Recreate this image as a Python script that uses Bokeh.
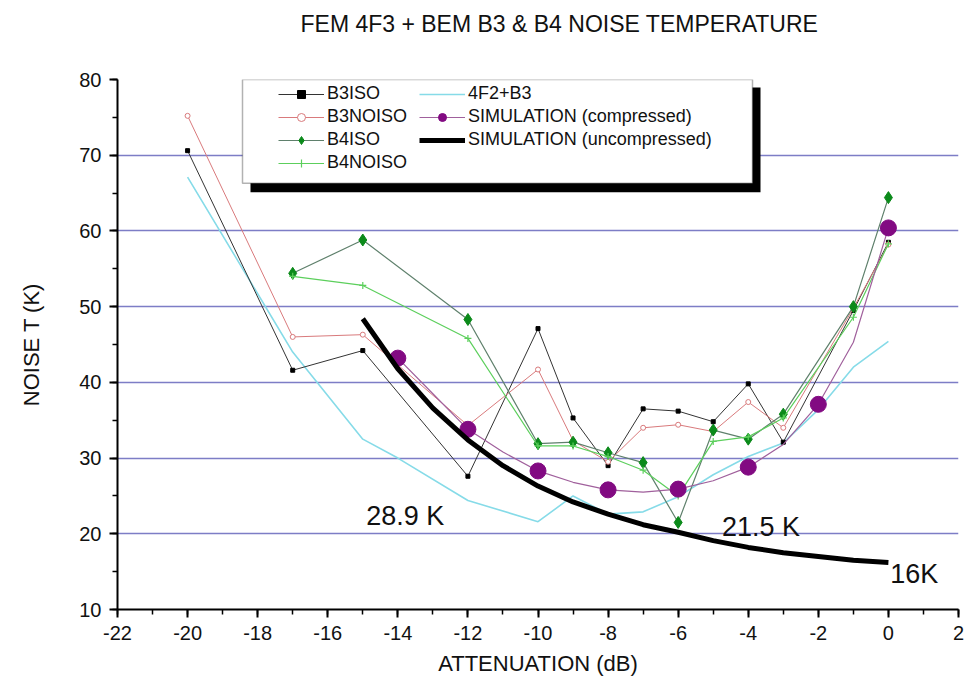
from bokeh.plotting import figure
from bokeh.models import (Legend, LegendItem, BoxAnnotation, Label, Title,
                          SingleIntervalTicker, FixedTicker, Range1d)
from bokeh.embed import file_html
from bokeh.resources import INLINE

# ---------------- data ----------------
b3iso_x = [-20, -17, -15, -12, -10, -9, -8, -7, -6, -5, -4, -3, -1, 0]
b3iso_y = [70.6, 41.6, 44.2, 27.6, 47.1, 35.3, 29.0, 36.5, 36.2, 34.8, 39.8, 32.1, 49.5, 58.5]

b3noiso_x = [-20, -17, -15, -12, -10, -9, -8, -7, -6, -5, -4, -3, -1, 0]
b3noiso_y = [75.2, 46.0, 46.3, 34.3, 41.7, 32.3, 29.5, 34.0, 34.4, 33.5, 37.4, 34.0, 49.8, 58.2]

b4iso_x = [-17, -15, -12, -10, -9, -8, -7, -6, -5, -4, -3, -1, 0]
b4iso_y = [54.4, 58.8, 48.3, 31.9, 32.1, 30.7, 29.4, 21.5, 33.7, 32.5, 35.8, 50.0, 64.4]

b4noiso_x = [-17, -15, -12, -10, -9, -8, -7, -6, -5, -4, -3, -1, 0]
b4noiso_y = [54.0, 52.8, 45.8, 31.6, 31.6, 30.2, 28.4, 25.0, 32.2, 32.8, 35.3, 48.6, 58.3]

f4b3_x = [-20, -17, -15, -14, -12, -10, -9, -8, -7, -6, -5, -4, -3, -2, -1, 0]
f4b3_y = [67.1, 44.0, 32.5, 30.0, 24.4, 21.6, 25.0, 22.6, 22.9, 24.9, 27.8, 30.2, 32.0, 36.4, 42.0, 45.4]

simc_x = [-14, -13, -12, -11, -10, -9, -8, -7, -6, -5, -4, -3, -2, -1, 0]
simc_y = [43.2, 38.5, 33.8, 30.8, 28.3, 26.8, 25.8, 25.5, 25.9, 27.0, 28.8, 31.8, 37.1, 45.3, 60.4]
simc_marker_x = [-14, -12, -10, -8, -6, -4, -2, 0]

simu_x = [-15, -14, -13, -12, -11, -10, -9, -8, -7, -6, -5, -4, -3, -2, -1, 0]
simu_y = [48.4, 41.8, 36.6, 32.4, 29.0, 26.3, 24.2, 22.6, 21.2, 20.2, 19.1, 18.2, 17.5, 17.0, 16.5, 16.2]

notes = ["28.9 K", "21.5 K", "16K"]
notes_x = [-14.9, -4.75, 0.05]
notes_y = [22.4, 20.9, 14.75]

title_text = "FEM 4F3 + BEM B3 & B4 NOISE TEMPERATURE"

x_ticks = list(range(-22, 3, 2))
x_tick_labels = ["-22", "-20", "-18", "-16", "-14", "-12", "-10", "-8", "-6", "-4", "-2", "0", "2"]

X_RANGE = (-22, 2)
Y_RANGE = (10, 80)

# ---------------- figure ----------------
W, H = 964, 678
BL, BR, BT, BB = 117, 6, 79, 68
FW = W - BL - BR
FH = H - BT - BB
FONT = "Liberation Sans"

p = figure(width=W, height=H, output_backend="svg", toolbar_location=None,
           x_range=Range1d(*X_RANGE), y_range=Range1d(*Y_RANGE),
           min_border_left=BL, min_border_right=BR, min_border_top=BT,
           min_border_bottom=BB)
p.outline_line_color = None
p.background_fill_color = "white"
p.border_fill_color = "white"

# spacer panel next to the frame, then the real title above it
p.add_layout(Title(text=" ", text_font_size="10px", standoff=26), "above")
p.add_layout(Title(text=title_text, text_font=FONT, text_font_size="23px",
                   text_font_style="normal", text_color="#111111",
                   align="left", offset=183, standoff=8), "above")

p.xaxis.ticker = SingleIntervalTicker(interval=2, num_minor_ticks=2)
p.yaxis.ticker = SingleIntervalTicker(interval=10, num_minor_ticks=2)
p.xaxis.major_label_overrides = {t: s for t, s in zip(x_ticks, x_tick_labels)}
p.xaxis.axis_label = "ATTENUATION (dB)"
p.yaxis.axis_label = "NOISE T (K)"
for ax in (p.xaxis[0], p.yaxis[0]):
    ax.axis_label_text_font = FONT
    ax.axis_label_text_font_size = "22px"
    ax.axis_label_text_font_style = "normal"
    ax.axis_label_text_color = "#111111"
    ax.major_label_text_font = FONT
    ax.major_label_text_font_size = "20px"
    ax.major_label_text_color = "#111111"
    ax.axis_line_width = 2
    ax.axis_line_color = "black"
    ax.major_tick_line_width = 2
    ax.major_tick_line_color = "black"
    ax.minor_tick_line_width = 1.5
    ax.minor_tick_line_color = "black"
    ax.major_tick_in = 0
    ax.major_tick_out = 8
    ax.minor_tick_in = 0
    ax.minor_tick_out = 5
p.xaxis.major_label_standoff = 8
p.xaxis.axis_label_standoff = 8
p.yaxis.major_label_standoff = 8
p.yaxis.axis_label_standoff = 32

p.xgrid.visible = False
p.ygrid.ticker = FixedTicker(ticks=[20, 30, 40, 50, 60, 70])
p.ygrid.grid_line_color = "#7d7dc6"
p.ygrid.grid_line_width = 1.5

# ---------------- helpers: frame pixels -> data ----------------
def dx(px):  # screen px from frame left -> data x
    return X_RANGE[0] + px * (X_RANGE[1] - X_RANGE[0]) / FW

def dy(px):  # screen px from frame top -> data y
    return Y_RANGE[1] - px * (Y_RANGE[1] - Y_RANGE[0]) / FH

# ---------------- legend box + shadow (decoration) ----------------
box_l, box_t, box_w, box_h = 125, 0, 510, 104
p.add_layout(BoxAnnotation(left=dx(box_l + 8), right=dx(box_l + box_w + 8),
                           top=dy(box_t + 8), bottom=dy(box_t + box_h + 9),
                           fill_color="black", fill_alpha=1, line_alpha=0))
p.add_layout(BoxAnnotation(left=dx(box_l), right=dx(box_l + box_w),
                           top=dy(box_t), bottom=dy(box_t + box_h),
                           fill_color="white", fill_alpha=1,
                           line_color="black", line_width=1.5))

# ---------------- series ----------------
r_cy = p.line(f4b3_x, f4b3_y, line_color="#86dbe8", line_width=1.6)

r_b3l = p.line(b3iso_x, b3iso_y, line_color="#333333", line_width=1)
r_b3m = p.scatter(b3iso_x, b3iso_y, marker="square", size=4,
                  fill_color="black", line_color="black")

r_b3nl = p.line(b3noiso_x, b3noiso_y, line_color="#d97a7c", line_width=1)
r_b3nm = p.scatter(b3noiso_x, b3noiso_y, marker="circle", size=5,
                   fill_color="white", line_color="#d97a7c", line_width=1)

r_b4l = p.line(b4iso_x, b4iso_y, line_color="#5f806c", line_width=1.2)
r_b4m = p.scatter(b4iso_x, b4iso_y, marker="diamond", size=12,
                  fill_color="#0b8a1a", line_color="#0b8a1a")

r_b4nl = p.line(b4noiso_x, b4noiso_y, line_color="#5ccf5c", line_width=1.2)
r_b4nm = p.scatter(b4noiso_x, b4noiso_y, marker="cross", size=7,
                   line_color="#5ccf5c", line_width=1.2)

r_scl = p.line(simc_x, simc_y, line_color="#a0609c", line_width=1.2)
mk_y = [simc_y[simc_x.index(v)] for v in simc_marker_x]
r_scm = p.scatter(simc_marker_x, mk_y, marker="circle", size=16,
                  fill_color="#820a82", line_color="#820a82")

r_su = p.line(simu_x, simu_y, line_color="black", line_width=5)

for t, x, y in zip(notes, notes_x, notes_y):
    p.add_layout(Label(x=x, y=y, text=t, text_font=FONT, text_font_size="27px",
                       text_color="#111111", text_baseline="alphabetic"))

# ---------------- legend ----------------
items = [
    LegendItem(label="B3ISO", renderers=[r_b3l, r_b3m]),
    LegendItem(label="B3NOISO", renderers=[r_b3nl, r_b3nm]),
    LegendItem(label="B4ISO", renderers=[r_b4l, r_b4m]),
    LegendItem(label="B4NOISO", renderers=[r_b4nl, r_b4nm]),
    LegendItem(label="4F2+B3", renderers=[r_cy]),
    LegendItem(label="SIMULATION (compressed)", renderers=[r_scl, r_scm]),
    LegendItem(label="SIMULATION (uncompressed)", renderers=[r_su]),
]
leg_top = 9
leg_h = 4 * 20 + 3 * 2
legend = Legend(items=items, nrows=4, orientation="vertical",
                location=(161, FH - leg_top - leg_h),
                padding=0, margin=0, spacing=2,
                glyph_width=46, glyph_height=20, label_height=20,
                label_width=90, label_standoff=3,
                label_text_font=FONT, label_text_font_size="18px",
                label_text_color="#111111",
                border_line_alpha=0, background_fill_alpha=0)
p.add_layout(legend)

open("out.html", "w").write(file_html(p, INLINE))
